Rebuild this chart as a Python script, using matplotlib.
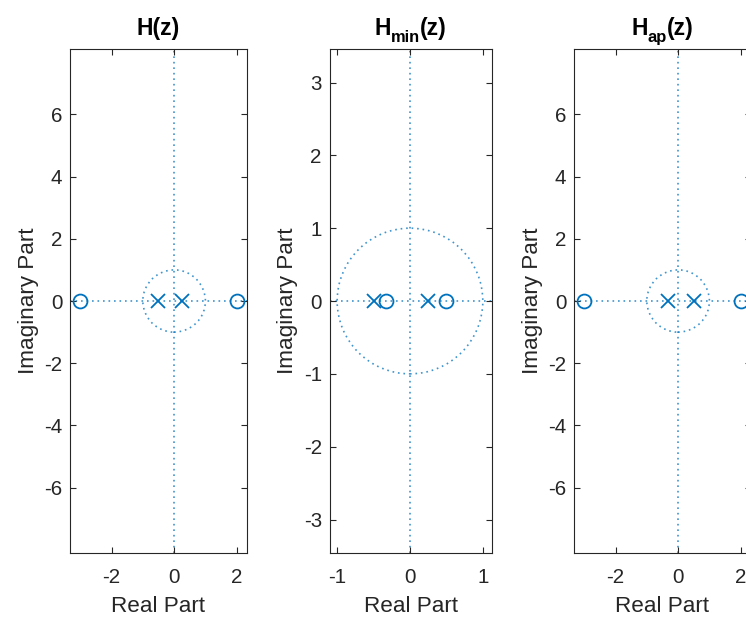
import numpy as np
import matplotlib
matplotlib.use("Agg")
import matplotlib.pyplot as plt
from matplotlib.patches import Circle

# pole / zero locations
h_zeros = [-3.0, 2.0]
h_poles = [-0.5, 0.25]
hmin_zeros = [-1.0 / 3.0, 0.5]
hmin_poles = [-0.5, 0.25]
hap_zeros = [-3.0, 2.0]
hap_poles = [-1.0 / 3.0, 0.5]

# title pieces: main text, subscript, tail
titles = [("H(z)", "", ""), ("H", "min", "(z)"), ("H", "ap", "(z)")]
xlims = [(-3.33, 2.33), (-1.105, 1.12), (-3.33, 2.33)]
ylims = [(-8.1, 8.1), (-3.46, 3.46), (-8.1, 8.1)]
xticks = [[-2, 0, 2], [-1, 0, 1], [-2, 0, 2]]
yticks = [[-6, -4, -2, 0, 2, 4, 6], [-3, -2, -1, 0, 1, 2, 3], [-6, -4, -2, 0, 2, 4, 6]]

BLUE = "#0072BD"
GREY = "#262626"

plt.rcParams["font.family"] = ["Liberation Sans", "DejaVu Sans"]
plt.rcParams["axes.unicode_minus"] = False


def title(fig, ax, parts):
     # MATLAB style H_{sub}(z): draw the pieces one after another
     main, sub, tail = parts
     r = fig.canvas.get_renderer()
     bb = ax.get_window_extent(r)
     y = bb.y1 + 14
     size = 16.5
     pieces = [(main, size, 0), (sub, size * 0.72, -7), (tail, size, 0)]
     widths = []
     objs = []
     for txt, fs, dy in pieces:
          if not txt:
               continue
          t = fig.text(0, 0, txt, fontsize=fs, fontweight="bold", color="black",
                       transform=None, va="baseline", ha="left")
          widths.append(t.get_window_extent(r).width)
          objs.append((t, dy))
     x = (bb.x0 + bb.x1) / 2 - sum(widths) / 2
     for (t, dy), w in zip(objs, widths):
          t.set_position((x, y + dy))
          x += w


def zplane(ax, zeros, poles, i):
     dots = (0, (1, 2.3))
     ax.axhline(0, color=BLUE, lw=1.2, alpha=0.75, linestyle=dots, zorder=1)
     ax.axvline(0, color=BLUE, lw=1.2, alpha=0.75, linestyle=dots, zorder=1)
     ax.add_patch(Circle((0, 0), 1, fill=False, edgecolor=BLUE, lw=1.2,
                         alpha=0.75, linestyle=dots, zorder=1))
     ax.plot(zeros, np.zeros(len(zeros)), linestyle="none", marker="o",
             markersize=10, markerfacecolor="none", markeredgecolor=BLUE,
             markeredgewidth=1.3, clip_on=True, zorder=3)
     ax.plot(poles, np.zeros(len(poles)), linestyle="none", marker="x",
             markersize=10.5, markeredgecolor=BLUE, markeredgewidth=1.3,
             zorder=3)
     ax.set_xlim(*xlims[i])
     ax.set_ylim(*ylims[i])
     ax.set_xticks(xticks[i])
     ax.set_yticks(yticks[i])
     ax.tick_params(direction="in", top=True, right=True, length=4.3,
                    width=0.8, colors=GREY, labelsize=14.8)
     ax.tick_params(axis="x", pad=11)
     ax.tick_params(axis="y", pad=5.5)
     for s in ax.spines.values():
          s.set_color(GREY)
          s.set_linewidth(0.8)
     ax.set_xlabel("Real Part", fontsize=16.2, color=GREY, labelpad=6.5)
     ax.set_ylabel("Imaginary Part", fontsize=16.2, color=GREY, labelpad=4)


def main():
     fig = plt.figure(figsize=(7.46, 6.19), dpi=100)
     bottom = 0.1066
     height = 0.8142
     ax1 = fig.add_axes([0.0938, bottom, 0.2373, height])
     ax2 = fig.add_axes([0.4417, bottom, 0.2172, height])
     ax3 = fig.add_axes([0.7694, bottom, 0.2373, height])
     axes = [ax1, ax2, ax3]
     zplane(ax1, h_zeros, h_poles, 0)
     zplane(ax2, hmin_zeros, hmin_poles, 1)
     zplane(ax3, hap_zeros, hap_poles, 2)
     for i, ax in enumerate(axes):
          title(fig, ax, titles[i])
     fig.savefig("out.png", dpi=100)


if __name__ == "__main__":
     main()
